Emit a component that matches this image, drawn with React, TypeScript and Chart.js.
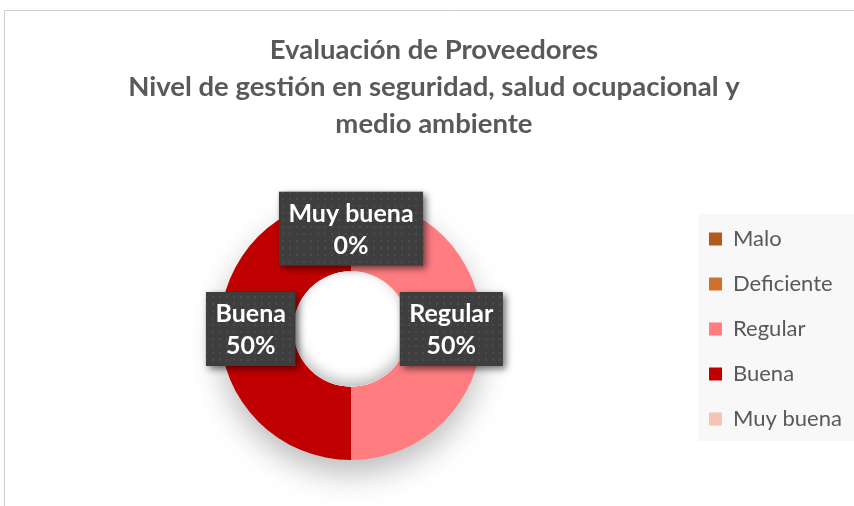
import React, { useEffect, useRef } from "react";
import { Chart, registerables } from "chart.js";

Chart.register(...registerables);

// ---- data ----
const categories = ["Malo", "Deficiente", "Regular", "Buena", "Muy buena"];
const values = [0, 0, 1, 1, 0];
const colors = ["#B3581F", "#D2702B", "#FF7C80", "#C00000", "#F4C5B5"];
const showLabel = [false, false, true, true, true];
const titleLines = [
  "Evaluación de Proveedores",
  "Nivel de gestión en seguridad, salud ocupacional y",
  "medio ambiente",
];

const FONT = "Lato";
const LEGEND_FONT = 22;
const LEGEND_PAD = 23;
const LEGEND_BOX = 13;
const LABEL_FONT = 25;

export default function App() {
  const ref = useRef<HTMLCanvasElement>(null);

  useEffect(() => {
    const canvas = ref.current!;
    const W = canvas.width;
    const ctx0 = canvas.getContext("2d")!;
    ctx0.font = `${LEGEND_FONT}px ${FONT}`;
    const maxText = Math.max(...categories.map((c) => ctx0.measureText(c).width));
    const legendW = LEGEND_PAD + LEGEND_BOX + LEGEND_FONT / 2 + maxText + 10;
    const legendLeft = 709 - LEGEND_PAD;
    const padL = 2 * 351 - legendLeft;
    const padR = Math.max(0, W - legendLeft - legendW);

    // dotted pattern for the label boxes
    const tile = document.createElement("canvas");
    tile.width = 7;
    tile.height = 7;
    const tc = tile.getContext("2d")!;
    tc.fillStyle = "#3e3e3e";
    tc.fillRect(0, 0, 7, 7);
    tc.fillStyle = "#4b4b4b";
    tc.fillRect(2, 2, 2, 2);
    const pattern = ctx0.createPattern(tile, "repeat");

    const framePlugin = {
      id: "frame",
      beforeDraw(chart: any) {
        const c = chart.ctx;
        c.save();
        c.fillStyle = "#ffffff";
        c.fillRect(0, 0, chart.width, chart.height);
        c.strokeStyle = "#cfcfcf";
        c.lineWidth = 1;
        c.beginPath();
        c.moveTo(4.5, chart.height + 2);
        c.lineTo(4.5, 10.5);
        c.lineTo(chart.width + 2, 10.5);
        c.stroke();
        const lg = chart.legend;
        if (lg) {
          const mid = (lg.top + lg.bottom) / 2;
          c.fillStyle = "#f8f8f8";
          c.fillRect(lg.left + LEGEND_PAD - 11, mid - 115, chart.width, 227);
        }
        c.restore();
      },
    };

    const ringShadow = {
      id: "ringShadow",
      beforeDatasetsDraw(chart: any) {
        const arc = chart.getDatasetMeta(0).data[0];
        if (!arc) return;
        const { x, y, outerRadius } = arc.getProps(["x", "y", "outerRadius"], true);
        const c = chart.ctx;
        c.save();
        c.shadowColor = "rgba(0,0,0,0.28)";
        c.shadowBlur = 32;
        c.shadowOffsetY = 14;
        c.fillStyle = "#ffffff";
        c.beginPath();
        c.arc(x, y, outerRadius - 1, 0, Math.PI * 2);
        c.fill();
        c.restore();
      },
    };

    const holeShade = {
      id: "holeShade",
      afterDatasetsDraw(chart: any) {
        const arc = chart.getDatasetMeta(0).data[0];
        if (!arc) return;
        const { x, y, innerRadius } = arc.getProps(["x", "y", "innerRadius"], true);
        const c = chart.ctx;
        c.save();
        c.beginPath();
        c.arc(x, y, innerRadius, 0, Math.PI * 2);
        c.fillStyle = "#ffffff";
        c.fill();
        c.clip();
        c.shadowColor = "rgba(0,0,0,0.28)";
        c.shadowBlur = 14;
        c.shadowOffsetY = -5;
        c.lineWidth = 20;
        c.strokeStyle = "#ffffff";
        c.beginPath();
        c.arc(x, y, innerRadius + 10, 0, Math.PI * 2);
        c.stroke();
        c.restore();
      },
    };

    const dataLabels = {
      id: "dataLabels",
      afterDatasetsDraw(chart: any) {
        const meta = chart.getDatasetMeta(0);
        const data = chart.data.datasets[0].data as number[];
        const total = data.reduce((a, b) => a + b, 0);
        const c = chart.ctx;
        meta.data.forEach((el: any, i: number) => {
          if (!showLabel[i]) return;
          const p = el.getProps(["x", "y", "startAngle", "endAngle", "innerRadius", "outerRadius"], true);
          const mid = (p.startAngle + p.endAngle) / 2;
          const r = (p.innerRadius + p.outerRadius) / 2 + 6;
          const cx = p.x + Math.cos(mid) * r;
          const cy = p.y + Math.sin(mid) * r;
          const pct = Math.round((data[i] / total) * 100) + "%";
          const lines = [chart.data.labels[i], pct];
          c.save();
          c.font = `bold ${LABEL_FONT}px ${FONT}`;
          const tw = Math.max(...lines.map((l: string) => c.measureText(l).width));
          const bw = tw + 19;
          const bh = 74;
          c.shadowColor = "rgba(0,0,0,0.55)";
          c.shadowBlur = 7;
          c.shadowOffsetX = 3;
          c.shadowOffsetY = 3;
          c.fillStyle = pattern || "#404040";
          c.fillRect(cx - bw / 2, cy - bh / 2, bw, bh);
          c.restore();
          c.save();
          c.font = `bold ${LABEL_FONT}px ${FONT}`;
          c.fillStyle = "#ffffff";
          c.textAlign = "center";
          c.textBaseline = "middle";
          c.fillText(lines[0], cx, cy - 15);
          c.fillText(lines[1], cx, cy + 17);
          c.restore();
        });
      },
    };

    const chart = new Chart(canvas, {
      type: "doughnut",
      data: {
        labels: categories,
        datasets: [
          {
            data: values,
            backgroundColor: colors,
            borderWidth: 0,
            hoverOffset: 0,
          },
        ],
      },
      options: {
        responsive: false,
        animation: false,
        cutout: "44%",
        radius: 131,
        layout: { padding: { left: padL, right: padR, top: 10, bottom: 46 } },
        plugins: {
          tooltip: { enabled: false },
          title: {
            display: true,
            text: titleLines,
            color: "#595959",
            font: { family: FONT, size: 27.5, weight: "bold", lineHeight: "37px" },
            padding: { top: 22, bottom: 55 },
          },
          legend: {
            display: true,
            position: "right",
            fullSize: false,
            labels: {
              color: "#595959",
              font: { family: FONT, size: LEGEND_FONT },
              boxWidth: LEGEND_BOX,
              boxHeight: LEGEND_BOX,
              padding: LEGEND_PAD,
            },
          },
        },
      } as any,
      plugins: [framePlugin, ringShadow, holeShade, dataLabels],
    });
    return () => chart.destroy();
  }, []);

  return (
    <div
      style={{
        position: "fixed",
        left: 0,
        top: 0,
        width: 854,
        height: 506,
        overflow: "hidden",
        background: "#ffffff",
      }}
    >
      <canvas ref={ref} width={900} height={506} style={{ display: "block" }} />
    </div>
  );
}
